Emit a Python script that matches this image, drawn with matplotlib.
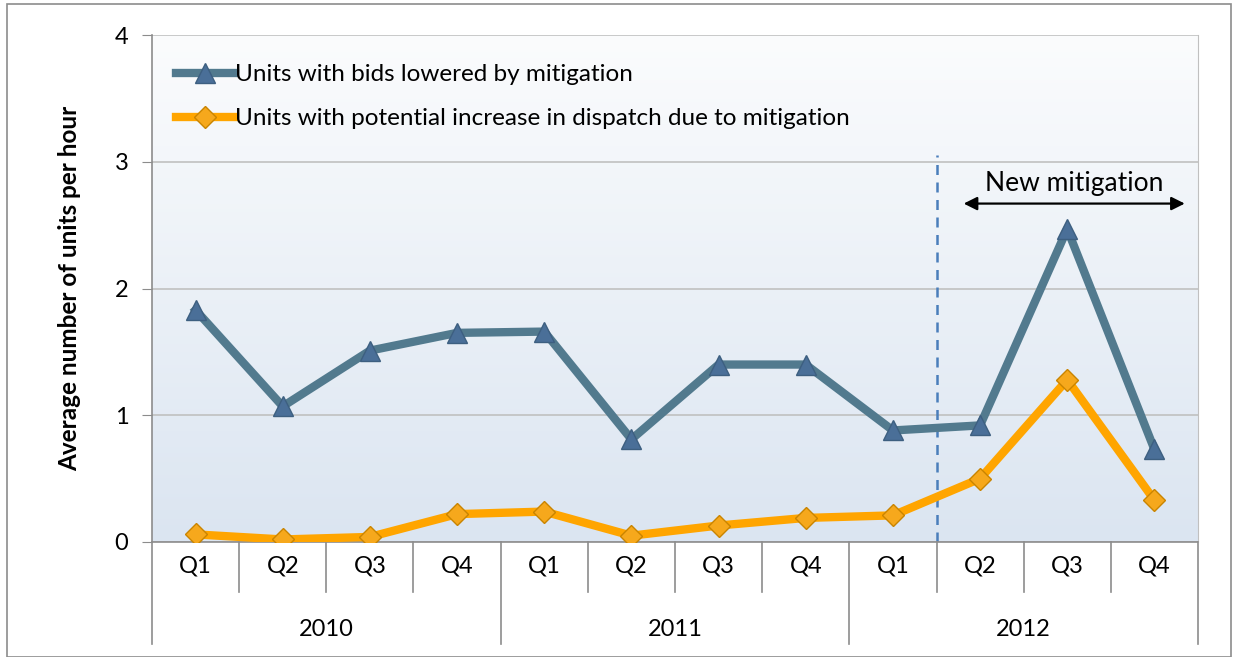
import matplotlib
matplotlib.use('Agg')
import matplotlib.pyplot as plt
import matplotlib.patches as mpatches
import numpy as np

plt.rcParams['font.family'] = ['Lato', 'DejaVu Sans']
plt.rcParams['font.size'] = 13

BLUE_LINE = '#527a8e'
BLUE_MARK = '#4a6f98'
ORANGE = '#ffa500'
ORANGE_MARK = '#f6a81c'
GRID = '#c0c0c0'
AXIS = '#8c8c8c'

# data
years = ['2010', '2011', '2012']
quarters = ['Q1', 'Q2', 'Q3', 'Q4'] * 3
bids_lowered = [1.83, 1.07, 1.51, 1.65, 1.66, 0.81, 1.40, 1.40, 0.88, 0.92, 2.47, 0.73]
dispatch_up = [0.06, 0.02, 0.04, 0.22, 0.24, 0.05, 0.13, 0.19, 0.21, 0.50, 1.28, 0.33]

fig = plt.figure(figsize=(12.33, 6.57), dpi=100)
fig.patch.set_facecolor('white')
ax = fig.add_axes([152/1233, 115/657, 1046/1233, 507/657])

x = np.arange(len(quarters))
ax.set_xlim(-0.5, len(quarters) - 0.5)
ax.set_ylim(0, 4)

# gradient background
grad = np.linspace(0, 1, 256).reshape(-1, 1)
cmap = matplotlib.colors.LinearSegmentedColormap.from_list('bg', ['#fbfcfd', '#dbe5f1'])
ax.imshow(grad, aspect='auto', cmap=cmap, extent=[0, 1, 0, 1], transform=ax.transAxes, zorder=0)

ax.set_yticks([0, 1, 2, 3, 4])
ax.yaxis.grid(True, color=GRID, linewidth=1.2)
ax.set_axisbelow(True)
ax.spines['top'].set_visible(False)
ax.spines['right'].set_color(GRID)
ax.spines['left'].set_color(AXIS)
ax.spines['bottom'].set_color(AXIS)
ax.spines['left'].set_linewidth(1.2)
ax.spines['bottom'].set_linewidth(1.2)
ax.tick_params(axis='y', length=7, color=AXIS, labelsize=17, pad=10)
ax.set_xticks([])

ax.plot(x, bids_lowered, color=BLUE_LINE, lw=6, marker='^', ms=15,
        mfc=BLUE_MARK, mec='#3d5f80', mew=1, label='Units with bids lowered by mitigation', zorder=3)
ax.plot(x, dispatch_up, color=ORANGE, lw=6, marker='D', ms=11,
        mfc=ORANGE_MARK, mec='#c98400', mew=1,
        label='Units with potential increase in dispatch due to mitigation', zorder=3)

# new mitigation marker
ax.plot([8.5, 8.5], [0, 3.05], color='#4a7ebb', lw=1.8, ls=(0, (4, 3)), zorder=2)
ax.annotate('', xy=(8.78, 2.67), xytext=(11.38, 2.67),
            arrowprops=dict(arrowstyle='<|-|>', color='black', lw=1.6, mutation_scale=20))
ax.text(10.08, 2.83, 'New mitigation', ha='center', va='center', fontsize=19)

ax.set_ylabel('Average number of units per hour', fontsize=17.5, fontweight='bold', labelpad=24)

# two-level category axis
tr = ax.get_xaxis_transform()
for i, q in enumerate(quarters):
    ax.text(i, -0.047, q, transform=tr, ha='center', va='center', fontsize=17)
for b in np.arange(len(quarters) + 1) - 0.5:
    low = -0.201 if (b + 0.5) % 4 == 0 else -0.099
    ax.plot([b, b], [0, low], transform=tr, color=AXIS, lw=1.2, clip_on=False)
for j, yr in enumerate(years):
    ax.text(j * 4 + 1.5, -0.172, yr, transform=tr, ha='center', va='center', fontsize=17)

leg = ax.legend(loc='upper left', bbox_to_anchor=(0.0, 0.99), frameon=False, fontsize=17.5,
                handlelength=2.4, handletextpad=0.0, labelspacing=0.95, borderaxespad=0.6)

# outer frame
fig.patches.append(mpatches.Rectangle((7/1233, 0), 1224/1233, 653/657, transform=fig.transFigure,
                                      fill=False, edgecolor='#8c8c8c', lw=1.2))

plt.savefig('out.png', dpi=100, facecolor='white')
plt.close()
